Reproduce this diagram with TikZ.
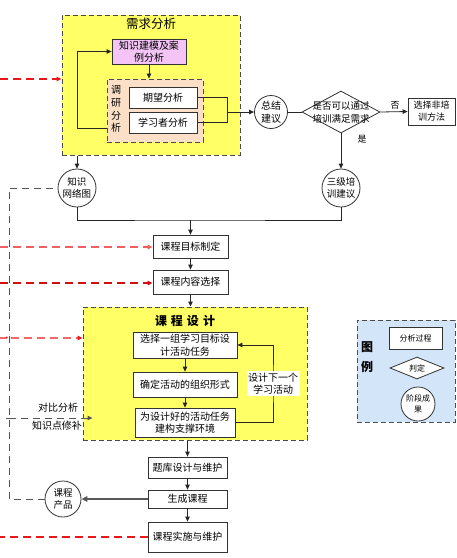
\documentclass[tikz,border=0pt]{standalone}
\usepackage{fontspec}
\newfontfamily\cjk{Noto Sans CJK SC}
\usetikzlibrary{shapes.geometric,arrows.meta,calc}
\definecolor{yel}{HTML}{FFFF66}
\definecolor{vio}{HTML}{F3C4F5}
\definecolor{pea}{HTML}{FBDFC6}
\definecolor{lblue}{HTML}{D3E5F8}
\definecolor{rdm}{HTML}{E81818}
\definecolor{rdl}{HTML}{F06060}
\definecolor{rdd}{HTML}{D01010}
\definecolor{gd}{HTML}{555555}
\tikzset{
  every node/.style={font=\cjk\fontsize{10}{12.5}\selectfont},
  box/.style={draw=black!80, fill=white, line width=0.8pt, inner sep=0pt, align=center},
  region/.style={draw=black!70, line width=1pt, dash pattern=on 5pt off 3pt, inner sep=0pt},
  roundnode/.style={circle, draw=black!80, fill=white, line width=0.8pt, inner sep=0pt},
  dia/.style={diamond, draw=black!80, fill=white, line width=0.8pt, inner sep=0pt},
  ln/.style={draw=black!85, line width=0.8pt},
  conn/.style={ln, -{Triangle[length=5pt,width=4.5pt]}},
  rline/.style={color=rdm, line width=1.3pt, dash pattern=on 8pt off 5pt},
  rarrow/.style={rline, -{Triangle[length=5pt,width=4.5pt]}},
  gline/.style={draw=gd, line width=1pt, dash pattern=on 7pt off 5pt},
  lbl/.style={inner sep=0pt, align=center},
}
\begin{document}
\begin{tikzpicture}[x=1pt,y=-1pt]
\useasboundingbox (0,0) rectangle (457,558);

% ---------- 需求分析 ----------
\node[region, fill=yel, minimum width=178pt, minimum height=140pt] (xq) at (151,85) {};
\node[lbl, font=\cjk\fontsize{12.5}{14}\selectfont] (xqt) at (151,24) {需求分析};
\node[box, fill=vio, minimum width=74pt, minimum height=25pt] (zs) at (149,51.5) {知识建模及案\\例分析};
\node[region, fill=pea, line width=0.9pt, minimum width=96pt, minimum height=63pt] (dy) at (155,110.5) {};
\node[lbl, font=\cjk\fontsize{10}{12.7}\selectfont] (dyt) at (116,109) {调\\研\\分\\析};
\node[box, minimum width=68pt, minimum height=21pt] (qw) at (163,97.5) {期望分析};
\node[box, minimum width=68pt, minimum height=21pt] (xx) at (163,122.5) {学习者分析};

\draw[conn] (zs.south) -- (zs.south |- dy.north);
\draw[conn] (dy.west |- xx.east) ++(0,5.5) -- (77,128) |- (zs.west);
\draw[ln] (qw.east) -| (227,122.5) -- (xx.east);

% ---------- 总结建议 / 判定 ----------
\node[roundnode, minimum size=33pt, label={[lbl]center:总结\\建议}] (zj) at (271,112) {};
\draw[conn] (227,112) -- (zj.west);
\node[dia, minimum width=78pt, minimum height=42pt, label={[lbl, font=\cjk\fontsize{9.5}{13}\selectfont]center:是否可以通过\\培训满足需求}] (pd) at (341,112) {};
\draw[ln] (zj.east) -- (pd.west);
\node[box, minimum width=47pt, minimum height=27pt, font=\cjk\fontsize{9}{12}\selectfont] (fp) at (431.5,111.5) {选择非培\\训方法};
\draw[conn] (pd.east) -- (fp.west);
\node[lbl, font=\cjk\fontsize{9}{11}\selectfont] (fou) at (395,105) {否};
\node[roundnode, minimum size=38pt, label={[lbl, font=\cjk\fontsize{9.5}{12.5}\selectfont]center:三级培\\训建议}] (sj) at (341,188) {};
\draw[conn] (pd.south) -- (sj.north);
\node[lbl, font=\cjk\fontsize{9}{11}\selectfont] (shi) at (362,139) {是};

% ---------- 知识网络图 ----------
\node[roundnode, minimum size=38pt, label={[lbl, font=\cjk\fontsize{9.5}{12.5}\selectfont]center:知识\\网络图}] (zw) at (77,188) {};
\draw[conn] (xq.south -| zw) -- (zw.north);

% ---------- 中间流程 ----------
\node[box, minimum width=75pt, minimum height=23pt] (mb) at (190.5,246.5) {课程目标制定};
\node[box, minimum width=75pt, minimum height=24pt] (nr) at (190.5,282) {课程内容选择};
\coordinate (j1) at (190.5,220);
\draw[ln] (zw.south) |- (j1) -| (sj.south);
\draw[conn] (j1) -- (mb.north);
\draw[conn] (mb.south) -- (nr.north);

% ---------- 课程设计 ----------
\node[region, fill=yel, minimum width=224pt, minimum height=133pt] (kc) at (195,373.5) {};
\draw[conn] (nr.south) -- (nr.south |- kc.north);
\node[lbl, font=\cjk\bfseries\fontsize{12}{14}\selectfont] (kct) at (185,321) {课\,\,程\,\,设\,\,计};
\node[box, minimum width=104pt, minimum height=26pt] (b1) at (185,345) {选择一组学习目标设\\计活动任务};
\node[box, minimum width=104pt, minimum height=25pt] (b2) at (185,384.5) {确定活动的组织形式};
\node[box, minimum width=100pt, minimum height=29pt] (b3) at (185,422.5) {为设计好的活动任务\\建构支撑环境};
\draw[conn] (b1.south) -- (b2.north);
\draw[conn] (b2.south) -- (b3.north);
\coordinate (lc) at (273,383.5);
\draw[conn] (b3.east) -| (lc) |- (b1.east);
\node[lbl, fill=white, inner sep=1.5pt] (lpt) at (lc) {设计下一个\\学习活动};

% ---------- 后续 ----------
\node[box, minimum width=79pt, minimum height=21pt] (tk) at (187.5,467.5) {题库设计与维护};
\node[box, minimum width=79pt, minimum height=18pt] (sc) at (187.5,499) {生成课程};
\node[box, minimum width=79pt, minimum height=30pt] (ss) at (187.5,537) {课程实施与维护};
\draw[conn] (tk.north |- kc.south) -- (tk.north);
\draw[conn] (tk.south) -- (sc.north);
\draw[conn] (sc.south) -- (ss.north);
\node[roundnode, minimum size=36pt, label={[lbl, font=\cjk\fontsize{9.5}{12.5}\selectfont]center:课程\\产品}] (cp) at (63,499) {};
\draw[draw=black!65, line width=1.6pt, -{Triangle[length=6pt,width=5.5pt]}] (sc.west) -- (cp.east);

% ---------- 灰色虚线 ----------
\coordinate (gx) at (9,0);
\draw[gline] (cp.west) -- (cp.west -| gx) |- (zw.west);
\coordinate (db) at (9,418);
\draw[gline, -{Triangle[length=5pt,width=4.5pt]}] (db) -- ([xshift=10pt]kc.west |- db);
\draw[draw=gd, line width=0.8pt] (6,418) -- (12,418);
\node[lbl] (dbt1) at (58,408) {对比分析};
\node[lbl] (dbt2) at (57,426) {知识点修补};

% ---------- 红色虚线 ----------
\coordinate (r1) at (0,79);
\coordinate (r2) at (0,247);
\coordinate (r3) at (0,283);
\coordinate (r4) at (0,338);
\coordinate (r5) at (0,537);
\draw[rarrow] (r1) -- (xq.west |- r1);
\draw[rarrow, color=rdl] (r2) -- (mb.west |- r2);
\draw[rarrow, color=rdd] (r3) -- (nr.west |- r3);
\draw[rarrow] (r4) -- (6.5,338) .. controls (7.5,335) and (10.5,335) .. (11.5,338) -- (kc.west |- r4);
\draw[rline] (ss.west |- r5) -- (r5);

% ---------- 图例 ----------
\node[region, fill=lblue, minimum width=98pt, minimum height=102pt] (lg) at (406,371) {};
\node[lbl, font=\cjk\bfseries\fontsize{12}{20}\selectfont] (lgt) at (367,357) {图\\例};
\node[box, minimum width=53pt, minimum height=22pt, font=\cjk\fontsize{8}{10}\selectfont] (lb) at (415.5,338) {分析过程};
\node[dia, minimum width=54pt, minimum height=22pt, label={[lbl, font=\cjk\fontsize{8}{10}\selectfont]center:判定}] (ld) at (417,368) {};
\node[roundnode, minimum size=34pt, label={[lbl, font=\cjk\fontsize{8}{11}\selectfont]center:阶段成\\果}] (lc2) at (418,404) {};
\end{tikzpicture}
\end{document}
